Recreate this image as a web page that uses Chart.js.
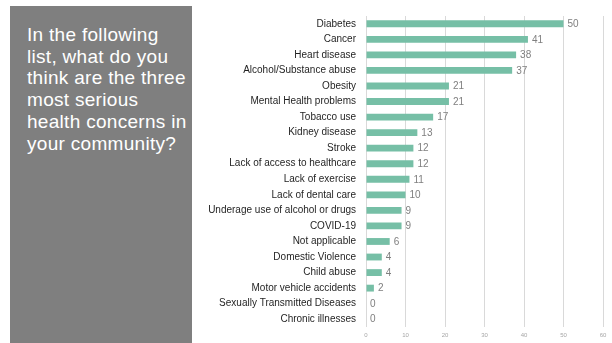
<!DOCTYPE html>
<html>
<head>
<meta charset="utf-8">
<script src="https://cdn.jsdelivr.net/npm/chart.js@4.4.1/dist/chart.umd.min.js"></script>
<style>
  html, body { margin:0; padding:0; background:#ffffff; }
  body { width:612px; height:343px; position:relative; overflow:hidden; }
  #panel { position:absolute; left:10px; top:6px; width:182px; height:337px; background:#7f7f7f; }
  #title { position:absolute; left:17px; top:18px; width:175px; color:#ffffff; white-space:nowrap;
           font-family:"Liberation Sans", Arial, sans-serif; font-size:19px; letter-spacing:0.3px; line-height:21.7px; }
  #wrap { position:absolute; left:0; top:0; width:612px; height:343px; }
</style>
</head>
<body>
<div id="panel"><div id="title">In the following<br>list, what do you<br>think are the three<br>most serious<br>health concerns in<br>your community?</div></div>
<div id="wrap"><canvas id="c" width="612" height="343"></canvas></div>
<script>
const categories = [
  "Diabetes", "Cancer", "Heart disease", "Alcohol/Substance abuse", "Obesity",
  "Mental Health problems", "Tobacco use", "Kidney disease", "Stroke",
  "Lack of access to healthcare", "Lack of exercise", "Lack of dental care",
  "Underage use of alcohol or drugs", "COVID-19", "Not applicable",
  "Domestic Violence", "Child abuse", "Motor vehicle accidents",
  "Sexually Transmitted Diseases", "Chronic illnesses"
];
const responses = [50, 41, 38, 37, 21, 21, 17, 13, 12, 12, 11, 10, 9, 9, 6, 4, 4, 2, 0, 0];
const xTicks = [0, 10, 20, 30, 40, 50, 60];

const valueLabels = {
  id: 'valueLabels',
  afterDatasetsDraw(chart) {
    const ctx = chart.ctx;
    const meta = chart.getDatasetMeta(0);
    ctx.save();
    ctx.font = '10px "Liberation Sans", Arial, sans-serif';
    ctx.fillStyle = '#7f7f7f';
    ctx.textAlign = 'left';
    ctx.textBaseline = 'middle';
    meta.data.forEach((bar, i) => {
      ctx.fillText(String(responses[i]), bar.x + 4, bar.y + 0.5);
    });
    ctx.restore();
  }
};

new Chart(document.getElementById('c'), {
  type: 'bar',
  data: {
    labels: categories,
    datasets: [{
      data: responses,
      backgroundColor: '#76bfa6',
      borderWidth: 0,
      categoryPercentage: 1.0,
      barPercentage: 0.44
    }]
  },
  options: {
    indexAxis: 'y',
    responsive: false,
    animation: false,
    events: [],
    layout: { padding: { left: 0, right: 9, top: 13, bottom: 0 } },
    plugins: { legend: { display: false }, tooltip: { enabled: false } },
    scales: {
      x: {
        min: 0, max: 60,
        afterBuildTicks: (s) => { s.ticks = xTicks.map(v => ({ value: v })); },
        afterFit: (s) => { s.height = 13; },
        grid: { color: '#d9d9d9', lineWidth: 1, drawTicks: false },
        border: { display: false },
        ticks: { color: '#a6a6a6', padding: 5, font: { size: 6, family: '"Liberation Sans", Arial, sans-serif' } }
      },
      y: {
        afterFit: (s) => { s.width = 366; },
        grid: { display: false, drawTicks: false },
        border: { display: false },
        ticks: { color: '#1f1f1f', padding: 10, autoSkip: false,
                 font: { size: 10, family: '"Liberation Sans", Arial, sans-serif' } }
      }
    }
  },
  plugins: [valueLabels]
});
</script>
</body>
</html>
